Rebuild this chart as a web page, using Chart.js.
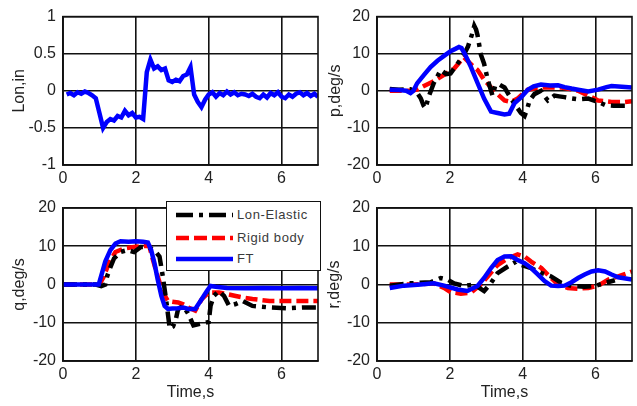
<!DOCTYPE html>
<html><head><meta charset="utf-8">
<script src="https://cdn.jsdelivr.net/npm/chart.js@4"></script>
<style>
html,body{margin:0;padding:0;background:#fff;width:637px;height:406px;overflow:hidden;}
.layer{position:absolute;left:0;top:0;width:637px;height:406px;}
#legend{position:absolute;left:166px;top:201px;width:153px;height:68px;border:1.6px solid #111;background:#fff;font-family:"Liberation Sans",Arial,sans-serif;font-size:13px;letter-spacing:0.6px;color:#3a3a3a;}
#legend span{position:absolute;left:70px;line-height:14px;}
#legend svg{position:absolute;left:0;top:0;}
</style></head><body>
<div class="layer"><canvas id="c1"></canvas></div>
<div class="layer"><canvas id="c2"></canvas></div>
<div class="layer"><canvas id="c3"></canvas></div>
<div class="layer"><canvas id="c4"></canvas></div>
<div id="legend">
<svg width="153" height="68">
<line x1="9" y1="13" x2="66" y2="13" stroke="#000" stroke-width="4.5" stroke-dasharray="17 6 4 6"/>
<line x1="9" y1="36" x2="66" y2="36" stroke="#ff0000" stroke-width="4.5" stroke-dasharray="13 5"/>
<line x1="9" y1="57" x2="66" y2="57" stroke="#0000ff" stroke-width="4.5"/>
</svg>
<span style="top:6px">Lon-Elastic</span>
<span style="top:29px">Rigid body</span>
<span style="top:50px">FT</span>
</div>
<script>
// ---------- data ----------
const seriesNames = ['Lon-Elastic', 'Rigid body', 'FT'];
const xTicks = [0, 2, 4, 6];
const lonTicks = [-1, -0.5, 0, 0.5, 1];
const rateTicks = [-20, -10, 0, 10, 20];

// Lon,in (FT only)
const lonT = [0.1,0.2,0.3,0.4,0.5,0.6,0.7,0.8,0.9,1.0,1.1,1.2,1.3,1.4,1.5,1.6,1.7,1.8,1.9,2.0,2.1,2.2,2.3,2.4,2.5,2.6,2.7,2.8,2.9,3.0,3.1,3.2,3.3,3.4,3.5,3.6,3.7,3.8,3.9,4.0,4.1,4.2,4.3,4.4,4.5,4.6,4.7,4.8,4.9,5.0,5.1,5.2,5.3,5.4,5.5,5.6,5.7,5.8,5.9,6.0,6.1,6.2,6.3,6.4,6.5,6.6,6.7,6.8,6.9,7.0];
const lonFT = [-0.05,-0.03,-0.06,-0.02,-0.04,-0.01,-0.03,-0.06,-0.10,-0.30,-0.50,-0.42,-0.38,-0.40,-0.34,-0.36,-0.27,-0.33,-0.30,-0.36,-0.35,-0.38,0.25,0.42,0.30,0.33,0.28,0.30,0.14,0.12,0.15,0.13,0.20,0.22,0.32,-0.05,-0.15,-0.22,-0.12,-0.05,-0.02,-0.08,-0.03,-0.06,-0.01,-0.05,-0.02,-0.06,-0.04,-0.05,-0.07,-0.04,-0.08,-0.10,-0.05,-0.09,-0.03,-0.06,-0.02,-0.08,-0.10,-0.05,-0.08,-0.04,-0.02,-0.06,-0.03,-0.07,-0.04,-0.08];

// p,deg/s
const pT_FT = [0.35,0.6,0.8,0.92,1.0,1.1,1.29,1.47,1.66,1.84,2.02,2.15,2.25,2.32,2.39,2.48,2.58,2.76,2.94,3.13,3.31,3.5,3.63,3.77,3.96,4.14,4.3,4.5,4.75,4.97,5.15,5.34,5.52,5.8,6.07,6.3,6.44,6.72,7.0];
const p_FT = [0.3,0.2,0,-0.6,0,2,4.3,6.4,8.1,9.4,10.7,11.3,11.8,11.5,10.3,8.5,6.4,2.1,-2.1,-5.6,-6,-6.4,-6.2,-3.4,-1.7,0.3,1.2,1.7,1.4,1.5,1.0,0.6,0.3,-0.2,0.3,1.0,1.3,1.1,0.9];
const pT_RB = [0.35,0.9,1.1,1.29,1.56,1.84,2.12,2.3,2.39,2.48,2.62,2.76,2.94,3.13,3.31,3.5,3.68,3.86,4.0,4.14,4.4,4.6,5.06,5.3,5.52,5.8,6.07,6.44,6.8,7.0];
const p_RB = [0,0,0.3,1.3,2.6,4.3,6,8.1,9,8.1,6.8,5.6,3,0.9,-0.9,-2.6,-3,-2.1,-0.8,0.3,0.8,0.9,0.9,0.5,0,-1.3,-2.6,-3,-3,-2.8];
const pT_LE = [0.35,0.6,0.92,1.1,1.2,1.28,1.33,1.38,1.43,1.56,1.75,1.9,2.02,2.21,2.39,2.5,2.6,2.67,2.72,2.76,2.85,2.94,3.04,3.17,3.25,3.36,3.5,3.68,3.86,3.95,4.05,4.12,4.19,4.32,4.5,4.6,4.69,4.87,5.0,5.15,5.3,5.52,5.8,6.07,6.26,6.5,6.81];
const p_LE = [0.5,0.3,0.4,-0.5,-2,-4,-4.7,-3,-1.3,2.1,5.6,4.5,4.7,7.3,9.8,12,15,17.5,16.5,15,9.8,7.3,3,-1.3,1.5,1.7,0.9,-2.1,-4.7,-6,-6.8,-5,-2.6,-0.9,0,-1.5,-2.6,-1.3,-1.5,-1.7,-2,-2.3,-2.1,-3,-3.8,-4,-4];

// q,deg/s
const qT_FT = [0,0.5,0.98,1.07,1.16,1.3,1.44,1.58,1.8,2.0,2.2,2.33,2.42,2.51,2.6,2.7,2.79,2.88,3.0,3.16,3.3,3.44,3.63,3.81,3.95,4.05,4.19,4.5,5.0,5.5,6.0,6.5,7.0];
const q_FT = [0,0,0,3,6,9,10.7,11.3,11.2,11.3,11.2,11,9,5.6,1.3,-3,-5.6,-6.4,-6.3,-6.2,-6,-6.4,-6.4,-3.8,-1.7,-0.4,-0.6,-0.9,-1,-0.9,-1,-0.9,-1];
const qT_RB = [0,1.0,1.12,1.26,1.44,1.67,1.95,2.23,2.37,2.47,2.6,2.74,2.88,3.0,3.16,3.3,3.44,3.63,3.81,4.0,4.28,4.5,4.74,5.0,5.2,5.67,6.0,6.6,7.0];
const q_RB = [0,0,2.1,5.6,8.5,9.4,9.8,10.1,10,6.4,2.1,-2.1,-4.3,-4.5,-4.7,-5.2,-6,-6.8,-3.8,-2.1,-2.1,-2.5,-3,-3.5,-3.8,-4.3,-4.3,-4.3,-4.3];
const qT_LE = [0,0.9,1.05,1.16,1.21,1.3,1.4,1.58,1.77,1.95,2.14,2.33,2.51,2.65,2.74,2.84,2.93,3.02,3.1,3.16,3.3,3.44,3.58,3.81,4.0,4.05,4.14,4.28,4.42,4.56,4.74,4.93,5.2,5.67,6.14,6.6,7.0];
const q_LE = [0,0,-0.4,0,2.1,4.5,6.8,8.5,9,8.5,9.8,9.8,9,7.3,2.1,-4.7,-11.5,-11,-9,-6.4,-5.6,-7.7,-10.7,-10.2,-9.8,-5.6,-3,-1.7,-3,-5.6,-5.1,-4.3,-5.6,-6,-6.2,-6,-6];

// r,deg/s
const rT_FT = [0.35,0.74,1.2,1.56,1.84,2.21,2.48,2.76,2.94,3.13,3.31,3.5,3.68,3.86,4.05,4.23,4.42,4.6,4.78,4.97,5.15,5.34,5.52,5.7,5.89,6.07,6.26,6.44,6.62,7.0];
const r_FT = [-0.9,-0.3,0,0.3,-0.3,-1.3,-1.7,-0.4,1.7,4.3,6.4,7.3,7.4,6.4,5.6,4.3,2.6,0.9,-0.3,-0.4,-0.3,0.6,1.7,2.6,3.4,3.7,3.4,2.6,1.9,1.3];
const rT_RB = [0.35,1.0,1.56,1.84,2.02,2.3,2.58,2.85,3.04,3.31,3.59,3.86,4.05,4.23,4.51,4.78,4.97,5.24,5.52,5.8,6.07,6.35,6.62,7.0];
const r_RB = [0,0,0.3,-0.9,-2,-2.4,-2.1,0,2.1,5.1,6.8,7.9,7.3,6,4.3,1.7,0,-0.9,-1.1,-0.9,-0.3,1.3,2.1,3.4];
const rT_LE = [0.35,0.92,1.47,1.75,1.93,2.12,2.39,2.67,2.94,3.13,3.31,3.59,3.82,3.96,4.23,4.51,4.78,5.06,5.34,5.7,5.98,6.26,6.53];
const r_LE = [-0.3,0.3,0.6,1.7,1.3,0.3,-0.4,0,-1.7,0.4,3,4.7,6,5.1,4.3,3,2.1,0.4,-0.4,-0.6,-0.4,0.4,1.1];

// ---------- drawing ----------
const FONT = '"Liberation Sans", Arial, sans-serif';
const TXT = '#222';
const GRID = '#111';
const W = 637, H = 406;

function pts(t, v) { return t.map((x, i) => ({x: x, y: v[i]})); }
function ds(name, t, v) {
  const style = {
    'FT': {borderColor: '#0000ff', borderWidth: 4.5, borderDash: []},
    'Rigid body': {borderColor: '#ff0000', borderWidth: 4.5, borderDash: [12, 5]},
    'Lon-Elastic': {borderColor: '#000000', borderWidth: 4.5, borderDash: [14, 6, 4, 6]}
  }[name];
  return Object.assign({label: name, data: pts(t, v), pointRadius: 0, tension: 0, fill: false, borderCapStyle: 'butt', borderJoinStyle: 'miter'}, style);
}

const framePlugin = {
  id: 'frame',
  afterDraw(chart) {
    const a = chart.chartArea, c = chart.ctx;
    c.save(); c.strokeStyle = GRID; c.lineWidth = 1.6;
    c.strokeRect(a.left, a.top, a.right - a.left, a.bottom - a.top);
    c.restore();
  }
};

function make(id, datasets, cfg) {
  const yW = 58;
  const xH = cfg.xTitle ? 45 : 30;
  new Chart(document.getElementById(id), {
    type: 'line',
    data: {datasets: datasets},
    plugins: [framePlugin],
    options: {
      responsive: true, maintainAspectRatio: false, animation: false,
      layout: {padding: {left: cfg.left - yW, top: cfg.top, right: W - cfg.right, bottom: H - cfg.bottom - xH}},
      plugins: {legend: {display: false}, tooltip: {enabled: false}},
      scales: {
        x: {
          type: 'linear', min: 0, max: 7,
          afterBuildTicks: s => { s.ticks = xTicks.map(v => ({value: v})); },
          afterFit: s => { s.height = xH; },
          grid: {color: GRID, lineWidth: 1.6, drawTicks: false},
          border: {color: GRID, width: 1.6},
          ticks: {padding: 4, color: TXT, font: {size: 16, family: FONT}, maxRotation: 0, callback: v => String(v)},
          title: {display: !!cfg.xTitle, text: cfg.xTitle || '', color: TXT, font: {size: 16, family: FONT}, padding: {top: 0, bottom: 4}}
        },
        y: {
          type: 'linear', min: cfg.yTicks[0], max: cfg.yTicks[cfg.yTicks.length - 1],
          afterBuildTicks: s => { s.ticks = cfg.yTicks.map(v => ({value: v})); },
          afterFit: s => { s.width = yW; },
          grid: {color: GRID, lineWidth: 1.6, drawTicks: false},
          border: {color: GRID, width: 1.6},
          ticks: {padding: 7, color: TXT, font: {size: 16, family: FONT}, callback: v => String(v)},
          title: {display: true, text: cfg.yTitle, color: TXT, font: {size: 16, family: FONT}, padding: {top: cfg.tPad, bottom: 0}}
        }
      }
    }
  });
}

make('c1', [ds('FT', lonT, lonFT)],
  {left: 63, right: 318, top: 11, bottom: 165, yTicks: lonTicks, yTitle: 'Lon,in', tPad: 5});
make('c2', [ds('FT', pT_FT, p_FT), ds('Lon-Elastic', pT_LE, p_LE), ds('Rigid body', pT_RB, p_RB)],
  {left: 377, right: 632, top: 11, bottom: 165, yTicks: rateTicks, yTitle: 'p,deg/s', tPad: 7});
make('c3', [ds('FT', qT_FT, q_FT), ds('Lon-Elastic', qT_LE, q_LE), ds('Rigid body', qT_RB, q_RB)],
  {left: 63, right: 318, top: 208, bottom: 361, yTicks: rateTicks, yTitle: 'q,deg/s', tPad: 5, xTitle: 'Time,s'});
make('c4', [ds('FT', rT_FT, r_FT), ds('Lon-Elastic', rT_LE, r_LE), ds('Rigid body', rT_RB, r_RB)],
  {left: 377, right: 632, top: 208, bottom: 361, yTicks: rateTicks, yTitle: 'r,deg/s', tPad: 6, xTitle: 'Time,s'});
</script>
</body></html>
